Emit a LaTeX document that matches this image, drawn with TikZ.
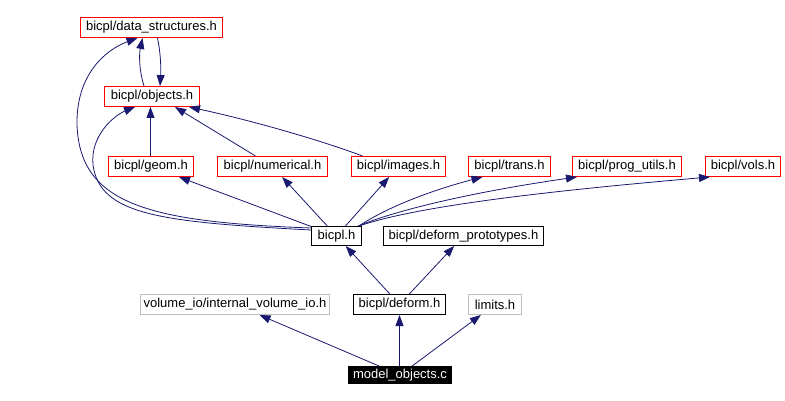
\documentclass[tikz,border=0pt]{standalone}
\usepackage{fontspec}
\setmainfont{Liberation Sans}
\usetikzlibrary{arrows.meta}
\definecolor{edgeblue}{HTML}{191970}
\definecolor{boxgrey}{HTML}{BFBFBF}
\definecolor{boxred}{HTML}{FF0000}
\begin{document}
\begin{tikzpicture}[x=1pt,y=-1pt,
  box/.style={rectangle, line width=1pt, minimum height=20pt, inner sep=0pt,
    font=\fontsize{13}{15}\selectfont},
  redbox/.style={box, draw=boxred},
  blackbox/.style={box, draw=black},
  greybox/.style={box, draw=boxgrey},
  mainbox/.style={box, draw=black, fill=black, text=white},
  dep/.style={draw=edgeblue, line width=0.8pt, -{Triangle[length=11pt,width=8pt]}}
]
\useasboundingbox[fill=white] (0,0) rectangle (785,401);

\node[redbox, minimum width=142pt] (ds) at (151.5,27.5) {bicpl/data\_structures.h};
\node[redbox, minimum width=95pt] (obj) at (152,96.5) {bicpl/objects.h};
\node[redbox, minimum width=85pt] (geom) at (151,166.5) {bicpl/geom.h};
\node[redbox, minimum width=110pt] (num) at (272.5,166.5) {bicpl/numerical.h};
\node[redbox, minimum width=94pt] (img) at (398.5,166.5) {bicpl/images.h};
\node[redbox, minimum width=82pt] (trans) at (509.5,166.5) {bicpl/trans.h};
\node[redbox, minimum width=109pt] (prog) at (627,166.5) {bicpl/prog\_utils.h};
\node[redbox, minimum width=75pt] (vols) at (743,166.5) {bicpl/vols.h};
\node[blackbox, minimum width=50pt, minimum height=19pt] (bicpl) at (336.5,236) {bicpl.h};
\node[blackbox, minimum width=160pt, minimum height=19pt] (proto) at (463.5,236) {bicpl/deform\_prototypes.h};
\node[greybox, minimum width=189pt] (volio) at (235,304.5) {volume\_io/internal\_volume\_io.h};
\node[blackbox, minimum width=92pt] (deform) at (399.5,304.5) {bicpl/deform.h};
\node[greybox, minimum width=53pt] (limits) at (495,304.5) {limits.h};
\node[mainbox, minimum width=103pt, minimum height=17pt] (main) at (400,375) {model\_objects.c};

% bottom level
\draw[dep] (main) -- (volio);
\draw[dep] (main.north -| deform.south) -- (deform.south);
\draw[dep] (main) -- (limits);
\draw[dep] (deform) -- (bicpl);
\draw[dep] (deform) -- (proto);

% bicpl.h includes
\draw[dep] (bicpl) -- (geom);
\draw[dep] (bicpl) -- (num);
\draw[dep] (bicpl) -- (img);
\draw[dep] ([xshift=-3pt]bicpl.north east) .. controls (390,205) and (440,188) .. ([xshift=-27pt]trans.south);
\draw[dep] ([xshift=-4pt]bicpl.north east) .. controls (410,205) and (500,188) .. ([xshift=-50pt]prog.south);
\draw[dep] ([xshift=-3pt]bicpl.north east) .. controls (420,205) and (560,190) .. ([xshift=-33pt]vols.south);
\draw[dep] ([yshift=-4pt]bicpl.north west) .. controls (160,222) and (100,215) .. (93,165)
  .. controls (90,135) and (115,115) .. ([xshift=-17pt]obj.south);
\draw[dep] ([yshift=-2pt]bicpl.north west) .. controls (150,222) and (80,205) .. (77,125)
  .. controls (76,75) and (105,50) .. ([xshift=-14pt]ds.south);

% to objects.h
\draw[dep] (geom.north -| obj.south) ++(-1.5,0) -- ([xshift=-1.5pt]obj.south);
\draw[dep] ([xshift=-17pt]num.north) -- ([xshift=23pt]obj.south);
\draw[dep] ([xshift=-36pt]img.north) .. controls (320,140) and (250,120) .. ([xshift=37pt]obj.south);

% objects.h <-> data_structures.h
\draw[dep] ([xshift=-8pt]obj.north) .. controls (139,70) and (139,55) .. ([xshift=-9pt]ds.south);
\draw[dep] ([xshift=6pt]ds.south) .. controls (161,55) and (161,70) .. ([xshift=8pt]obj.north);
\end{tikzpicture}
\end{document}
